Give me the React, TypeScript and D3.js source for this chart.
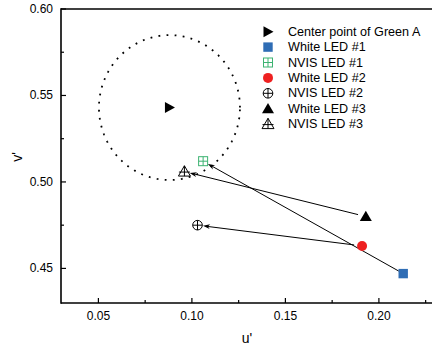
import React from "react";
import * as d3 from "d3";

// Chromaticity coordinates (u', v')
const centerPoint = { name: "Center point of Green A", u: 0.088, v: 0.543 };
const greenRadiusU = 0.0377;
const greenRadiusV = 0.0419;

const seriesNames = [
  "Center point of Green A",
  "White LED #1",
  "NVIS LED #1",
  "White LED #2",
  "NVIS LED #2",
  "White LED #3",
  "NVIS LED #3",
];
const seriesU = [0.088, 0.213, 0.106, 0.191, 0.103, 0.193, 0.096];
const seriesV = [0.543, 0.447, 0.512, 0.463, 0.475, 0.480, 0.506];
const seriesSymbol = ["triRight", "square", "squarePlus", "circle", "circlePlus", "triangle", "trianglePlus"];
const seriesColor = ["#000000", "#2f6db5", "#3cb371", "#ee2020", "#000000", "#000000", "#000000"];

// shifts: [from index, to index]
const shifts: [number, number][] = [
  [1, 2],
  [3, 4],
  [5, 6],
];

const xTicks = [0.05, 0.1, 0.15, 0.2];
const yTicks = [0.45, 0.5, 0.55, 0.6];
const xMinor = [0.075, 0.125, 0.175, 0.225];
const yMinor = [0.475, 0.525, 0.575];

const W = 432;
const H = 347;
const margin = { left: 61, top: 9, bottom: 303 };
const FONT = "Arial, 'Liberation Sans', sans-serif";

function Marker({ kind, color, x, y }: { kind: string; color: string; x: number; y: number }) {
  const s = 4.7;
  switch (kind) {
    case "triRight":
      return <path d={`M${x - 4.5},${y - 5.5}L${x + 5.5},${y}L${x - 4.5},${y + 5.5}Z`} fill={color} />;
    case "square":
      return <rect x={x - s} y={y - s} width={2 * s} height={2 * s} fill={color} />;
    case "squarePlus":
      return (
        <g stroke={color} strokeWidth={1} fill="none">
          <rect x={x - 4.5} y={y - 4.5} width={9} height={9} />
          <path d={`M${x},${y - 4.5}V${y + 4.5}M${x - 4.5},${y}H${x + 4.5}`} />
        </g>
      );
    case "circle":
      return <circle cx={x} cy={y} r={5} fill={color} />;
    case "circlePlus":
      return (
        <g stroke={color} strokeWidth={1} fill="none">
          <circle cx={x} cy={y} r={4.8} />
          <path d={`M${x},${y - 4.8}V${y + 4.8}M${x - 4.8},${y}H${x + 4.8}`} />
        </g>
      );
    case "triangle":
      return <path d={`M${x},${y - 5.8}L${x + 6},${y + 4.5}L${x - 6},${y + 4.5}Z`} fill={color} />;
    case "trianglePlus":
      return (
        <g stroke={color} strokeWidth={1} fill="none">
          <path d={`M${x},${y - 5.8}L${x + 6},${y + 4.5}L${x - 6},${y + 4.5}Z`} />
          <path d={`M${x},${y - 5.8}V${y + 4.5}M${x - 5.5},${y + 0.5}H${x + 5.5}`} />
        </g>
      );
    default:
      return null;
  }
}

export default function App() {
  const x = d3.scaleLinear().domain([0.03, 0.23]).range([margin.left, margin.left + 374]);
  const y = d3.scaleLinear().domain([0.43, 0.6]).range([margin.bottom, margin.top]);

  // dotted boundary ellipse around the green A center
  const ellipsePts = d3.range(0, 361, 2).map((deg) => {
    const a = (deg * Math.PI) / 180;
    return [x(centerPoint.u + greenRadiusU * Math.cos(a)), y(centerPoint.v + greenRadiusV * Math.sin(a))] as [number, number];
  });
  const ellipsePath = d3.line()(ellipsePts) || "";

  const arrows = shifts.map(([a, b]) => {
    const x1 = x(seriesU[a]);
    const y1 = y(seriesV[a]);
    const x2 = x(seriesU[b]);
    const y2 = y(seriesV[b]);
    const dx = x2 - x1;
    const dy = y2 - y1;
    const len = Math.hypot(dx, dy);
    const ux = dx / len;
    const uy = dy / len;
    const startOff = a === 1 ? 5 : 8;
    const endOff = 5.5;
    return {
      x1: x1 + ux * startOff,
      y1: y1 + uy * startOff,
      x2: x2 - ux * endOff,
      y2: y2 - uy * endOff,
      ux,
      uy,
    };
  });

  const legendX = 268;
  const legendY0 = 31.7;
  const legendDy = 15.4;

  return (
    <svg width={W} height={H} style={{ position: "absolute", left: 0, top: 0 }} fontFamily={FONT}>
      <rect width={W} height={H} fill="#fff" />

      <path d={ellipsePath} fill="none" stroke="#000" strokeWidth={1.8} strokeDasharray="1.8 6.3" />

      {/* shift arrows */}
      {arrows.map((ar, i) => {
        const hl = 7;
        const hw = 2.4;
        const bx = ar.x2 - ar.ux * hl;
        const by = ar.y2 - ar.uy * hl;
        const px = -ar.uy;
        const py = ar.ux;
        return (
          <g key={i}>
            <line x1={ar.x1} y1={ar.y1} x2={bx + ar.ux * 2} y2={by + ar.uy * 2} stroke="#000" strokeWidth={1} />
            <path
              d={`M${ar.x2},${ar.y2}L${bx + px * hw},${by + py * hw}L${bx + ar.ux * 2},${by + ar.uy * 2}L${bx - px * hw},${by - py * hw}Z`}
              fill="#000"
            />
          </g>
        );
      })}

      {seriesNames.map((n, i) => (
        <Marker key={n} kind={seriesSymbol[i]} color={seriesColor[i]} x={x(seriesU[i])} y={y(seriesV[i])} />
      ))}

      {/* axes frame */}
      <g stroke="#000" strokeWidth={1.6} fill="none">
        <line x1={margin.left} y1={margin.top} x2={W} y2={margin.top} />
        <line x1={margin.left} y1={margin.top - 0.8} x2={margin.left} y2={margin.bottom + 0.8} />
        <line x1={margin.left} y1={margin.bottom} x2={W} y2={margin.bottom} />
      </g>

      {/* ticks */}
      <g stroke="#000" strokeWidth={1.2}>
        {xTicks.map((t) => (
          <line key={t} x1={x(t)} x2={x(t)} y1={margin.bottom} y2={margin.bottom - 5} />
        ))}
        {xMinor.map((t) => (
          <line key={t} x1={x(t)} x2={x(t)} y1={margin.bottom} y2={margin.bottom - 3} />
        ))}
        {yTicks.map((t) => (
          <line key={t} x1={margin.left} x2={margin.left + 5} y1={y(t)} y2={y(t)} />
        ))}
        {yMinor.map((t) => (
          <line key={t} x1={margin.left} x2={margin.left + 3} y1={y(t)} y2={y(t)} />
        ))}
      </g>

      <g fontSize={12} fill="#000">
        {xTicks.map((t) => (
          <text key={t} x={x(t)} y={margin.bottom + 17} textAnchor="middle">
            {d3.format(".2f")(t)}
          </text>
        ))}
        {yTicks.map((t) => (
          <text key={t} x={53} y={y(t)} textAnchor="end" dominantBaseline="central">
            {d3.format(".2f")(t)}
          </text>
        ))}
      </g>

      <text x={247} y={343} fontSize={14} textAnchor="middle">
        u'
      </text>
      <text x={0} y={0} fontSize={14} textAnchor="middle" transform={`translate(22,157) rotate(-90)`}>
        v'
      </text>

      {/* legend */}
      {seriesNames.map((n, i) => {
        const ly = legendY0 + i * legendDy;
        return (
          <g key={n}>
            <Marker kind={seriesSymbol[i]} color={seriesColor[i]} x={legendX} y={ly} />
            <text x={288} y={ly} fontSize={12.6} dominantBaseline="central">
              {n}
            </text>
          </g>
        );
      })}
    </svg>
  );
}
